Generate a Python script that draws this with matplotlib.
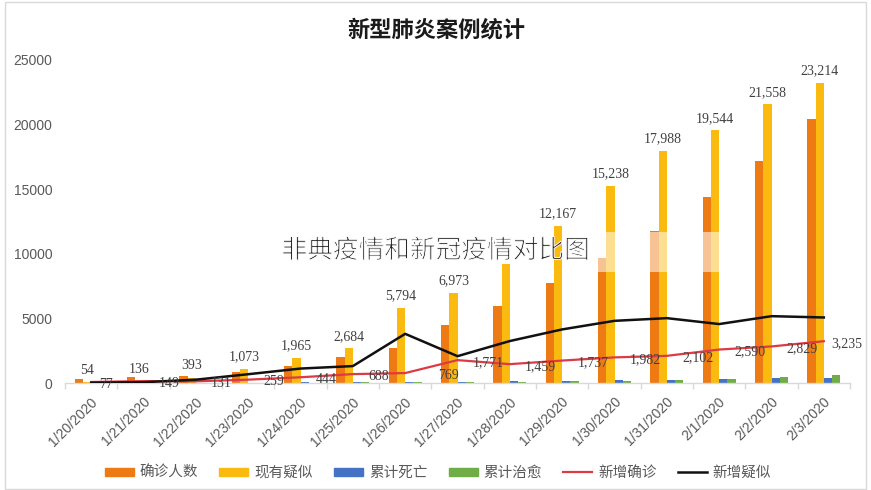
import matplotlib
matplotlib.use("Agg")
import matplotlib.pyplot as plt
import matplotlib.transforms as mtransforms
import matplotlib.patheffects as pe
from matplotlib.patches import Rectangle
from matplotlib.lines import Line2D
import numpy as np

# ---------------- data ----------------
dates = ['1/20/2020', '1/21/2020', '1/22/2020', '1/23/2020', '1/24/2020',
         '1/25/2020', '1/26/2020', '1/27/2020', '1/28/2020', '1/29/2020',
         '1/30/2020', '1/31/2020', '2/1/2020', '2/2/2020', '2/3/2020']
confirmed = [291, 440, 571, 830, 1287, 1975, 2744, 4515, 5974, 7711,
             9692, 11791, 14380, 17205, 20438]
suspected = [54, 136, 393, 1073, 1965, 2684, 5794, 6973, 9239, 12167,
             15238, 17988, 19544, 21558, 23214]
deaths = [6, 9, 17, 25, 41, 56, 80, 106, 132, 170, 213, 259, 304, 361, 425]
cured = [0, 0, 28, 34, 38, 49, 51, 60, 103, 124, 171, 243, 328, 475, 632]
new_confirmed = [77, 149, 131, 259, 444, 688, 769, 1771, 1459, 1737,
                 1982, 2102, 2590, 2829, 3235]
new_suspected = [27, 60, 257, 680, 1118, 1309, 3806, 2077, 3248, 4148,
                 4812, 5019, 4562, 5173, 5072]
series_names = ['确诊人数', '现有疑似', '累计死亡', '累计治愈', '新增确诊', '新增疑似']
yticks = [0, 5000, 10000, 15000, 20000, 25000]
title = '新型肺炎案例统计'
watermark = '非典疫情和新冠疫情对比图'

# ---------------- style ----------------
C_OR = '#EE7A14'
C_YE = '#FBBA10'
C_BL = '#4472C4'
C_GR = '#70AD47'
C_RED = '#DC3A44'
C_BLK = '#111111'
GRAY = '#595959'
LBL = '#404040'
CJK = ['Noto Sans CJK SC', 'DejaVu Sans']
NUM = 'Liberation Sans'
SERIF = 'Liberation Serif'

W, H = 871, 490
fig = plt.figure(figsize=(W / 100, H / 100), dpi=100)
fig.patch.set_facecolor('white')

ax = fig.add_axes([65 / W, (H - 383) / H, (850 - 65) / W, (383 - 60) / H])
ax.set_facecolor('none')
x = np.arange(len(dates))
bw = 0.157

ax.bar(x - 1.5 * bw, confirmed, bw, color=C_OR, zorder=2)
ax.bar(x - 0.5 * bw, suspected, bw, color=C_YE, zorder=2)
ax.bar(x + 0.5 * bw, deaths, bw, color=C_BL, zorder=2)
ax.bar(x + 1.5 * bw, cured, bw, color=C_GR, zorder=2)

ax.plot(x, new_confirmed, color=C_RED, lw=1.6, zorder=4)
ax.plot(x, new_suspected, color=C_BLK, lw=1.8, zorder=5)

ax.set_xlim(-0.5, len(dates) - 0.5)
ax.set_ylim(0, 25000)

# labels on yellow bars (1/28 label hidden under watermark in reference)
hidden_labels = {8}
for i, v in enumerate(suspected):
    if i in hidden_labels:
        continue
    ax.annotate(f'{v:,}', (x[i] - 0.5 * bw, v), xytext=(0, 4),
                textcoords='offset points', ha='center', va='bottom',
                fontsize=10, family=SERIF, color=LBL, zorder=6,
                annotation_clip=False)

# labels for new confirmed line
nudge = {0: 6, 6: 24, 14: 5}
for i, v in enumerate(new_confirmed):
    dx = nudge.get(i, 11)
    ax.annotate(f'{v:,}', (x[i], v), xytext=(dx, -1.5),
                textcoords='offset points', ha='left', va='center',
                fontsize=10, family=SERIF, color=LBL, zorder=6,
                annotation_clip=False)

# axes styling
for s in ['left', 'right', 'top']:
    ax.spines[s].set_visible(False)
ax.spines['bottom'].set_color('#D9D9D9')
ax.spines['bottom'].set_linewidth(1.0)
ax.set_yticks(yticks)
ax.set_yticklabels([str(t) for t in yticks], family=NUM, fontsize=10, color=GRAY)
ax.tick_params(axis='y', length=0, pad=9)
ax.set_xticks(x)
ax.set_xticklabels(dates, family=NUM, fontsize=10, color=GRAY,
                   rotation=45, ha='right', va='center', rotation_mode='anchor')
ax.tick_params(axis='x', which='major', length=0, pad=12)
ax.set_xticks(np.arange(-0.5, len(dates), 1.0), minor=True)
ax.tick_params(axis='x', which='minor', length=4, color='#D9D9D9', width=1)
offset = mtransforms.ScaledTranslation(3 / 72, 0, fig.dpi_scale_trans)
for lab in ax.get_xticklabels():
    lab.set_transform(lab.get_transform() + offset)

# title
fig.text(436 / W, 1 - 30 / H, title, ha='center', va='center',
         fontsize=16, fontweight='bold', family=CJK, color='#1a1a1a')

# legend
handles = [Rectangle((0, 0), 1, 1, color=C_OR), Rectangle((0, 0), 1, 1, color=C_YE),
           Rectangle((0, 0), 1, 1, color=C_BL), Rectangle((0, 0), 1, 1, color=C_GR),
           Line2D([], [], color=C_RED, lw=1.6), Line2D([], [], color=C_BLK, lw=1.8)]
leg = fig.legend(handles, series_names, loc='center', bbox_to_anchor=(438 / W, 1 - 473 / H),
                 ncol=6, frameon=False, handlelength=2.0, handleheight=0.55,
                 handletextpad=0.4, columnspacing=1.45,
                 prop={'family': CJK, 'size': 10.5})
for t in leg.get_texts():
    t.set_color(GRAY)

# watermark overlay
fig.patches.append(Rectangle((597 / W, 1 - 272 / H), (720 - 597) / W, 40 / H,
                             transform=fig.transFigure, facecolor='white',
                             alpha=0.55, edgecolor='none', zorder=10))
fig.text(436 / W, 1 - 251 / H, watermark, ha='center', va='center',
         fontsize=18.5, family=CJK, color='#222222', zorder=11,
         path_effects=[pe.Stroke(linewidth=0.7, foreground='white')])

# outer border
fig.patches.append(Rectangle((5 / W, 1 / H), (866 - 5) / W, (488 - 1) / H,
                             transform=fig.transFigure, facecolor='none',
                             edgecolor='#D9D9D9', lw=1.0, zorder=0))

fig.savefig('out.png', dpi=100, facecolor='white')
